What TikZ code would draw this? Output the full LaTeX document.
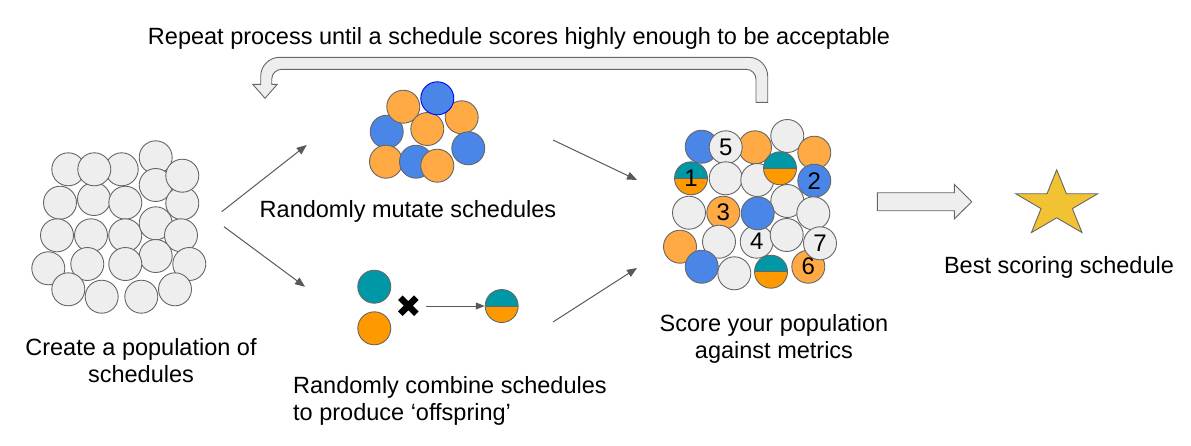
\documentclass[tikz,border=0pt]{standalone}
\usepackage{fontspec}
\setmainfont{Liberation Sans}
\usetikzlibrary{arrows.meta}
\definecolor{cgray}{HTML}{EEEEEE}
\definecolor{cedge}{HTML}{666666}
\definecolor{corange}{HTML}{FFAA44}
\definecolor{corange2}{HTML}{FF9900}
\definecolor{cblue}{HTML}{4A86E8}
\definecolor{cteal}{HTML}{0097A7}
\definecolor{cstar}{HTML}{F1C232}
\definecolor{carrow}{HTML}{595959}
\begin{document}
\begin{tikzpicture}[x=1pt,y=-1pt,
  circ/.style={circle, draw=cedge, line width=0.9pt, minimum size=33pt, inner sep=0pt, font=\fontsize{24}{24}\selectfont},
  gc/.style={circ, fill=cgray},
  oc/.style={circ, fill=corange},
  bc/.style={circ, fill=cblue},
  tc/.style={circ, fill=cteal},
  o2c/.style={circ, fill=corange2},
  sc/.style={circ, path picture={
     \fill[cteal] (path picture bounding box.north west) rectangle (path picture bounding box.east);
     \fill[corange2] (path picture bounding box.west) rectangle (path picture bounding box.south east);
     \draw[cedge, line width=0.9pt] (path picture bounding box.west) -- (path picture bounding box.east);}},
  lbl/.style={font=\fontsize{23.5}{27}\selectfont, inner sep=0pt},
  conn/.style={draw=carrow, line width=1pt, -{Triangle[length=10pt,width=8pt]}},
  block/.style={fill=cgray, draw=cedge, line width=0.9pt, line join=miter}
]
\useasboundingbox (0,0) rectangle (1191,445);

% top label and U-turn arrow
\node[lbl] (repeat) at (519,38) {Repeat process until a schedule scores highly enough to be acceptable};
\draw[block] (767.7,102.3) -- (767.7,76.3) arc[start angle=0,end angle=-90,radius=19]
  -- (279.7,57.3) arc[start angle=-90,end angle=-180,radius=19]
  -- (260.7,84.3) -- (252.7,84.3) -- (265,98.3) -- (277.3,84.3) -- (271.7,84.3)
  -- (271.7,79.3) arc[start angle=180,end angle=270,radius=10]
  -- (746,69.3) arc[start angle=270,end angle=360,radius=10]
  -- (756,102.3) -- cycle;

% left population
\foreach \p [count=\i] in {(68.3,169.3),(121.7,169.3),(60,202.7),(94,199),(94.3,169.3),(155.7,157.3),(155.7,185),(182.3,203.3),(182.3,175.7),(125.3,202.7),(57,235.3),(91,235.3),(125.3,235.3),(155.7,223.3),(181,235.3),(155.7,256),(48.3,268.3),(87.3,264),(125.3,264),(189.3,264),(68.3,289.3),(101.7,296.7),(141.3,296.7),(175,289.3)}
  \node[gc] (l\i) at \p {};
\node[lbl, align=center] (create) at (141,361) {Create a population of\\schedules};

% mutate cluster
\node[bc] (m1) at (386.7,131.7) {};
\node[oc] (m2) at (403.3,106.7) {};
\node[oc] (m3) at (461.7,117.3) {};
\node[oc] (m4) at (427.3,129) {};
\node[bc, draw=blue] (m5) at (437.3,98.3) {};
\node[bc] (m6) at (468.3,148.3) {};
\node[oc] (m7) at (386,161.7) {};
\node[bc] (m8) at (416,161.7) {};
\node[oc] (m9) at (437.3,165.7) {};
\node[lbl] (mutate) at (408,211) {Randomly mutate schedules};

% combine
\node[tc] (c1) at (374.3,286.7) {};
\node[o2c] (c2) at (374.3,328.3) {};
\draw[line width=6.5pt] (400.3,297.7) -- (416.3,313.7) (400.3,313.7) -- (416.3,297.7);
\coordinate (x) at (408.3,305.7);
\node[sc] (c3) at (501.7,306) {};
\coordinate (cs) at (426,306);
\draw[conn, -{Triangle[length=9pt,width=7pt]}] (cs) -- (c3.west);
\node[lbl, align=left, anchor=west] (combine) at (293,401) {Randomly combine schedules\\to produce ‘offspring’};

% arrows
\coordinate (a1s) at (221.7,211.7);
\coordinate (a1e) at (306.7,145);
\coordinate (a2s) at (224,226.7);
\coordinate (a2e) at (305,286.7);
\coordinate (a3s) at (553,140);
\coordinate (a3e) at (637,180);
\coordinate (a4s) at (553,322);
\coordinate (a4e) at (637,268);
\draw[conn] (a1s) -- (a1e);
\draw[conn] (a2s) -- (a2e);
\draw[conn] (a3s) -- (a3e);
\draw[conn] (a4s) -- (a4e);

% scored population
\node[bc] (r1) at (701.7,146.7) {};
\node[oc] (r2) at (755,147.3) {};
\node[gc] (r3) at (725.7,147.3) {5};
\node[gc] (r4) at (787.3,136) {};
\node[oc] (r5) at (814.3,152.7) {};
\node[gc] (r6) at (725.7,178.3) {};
\node[gc] (r7) at (757.3,180) {};
\node[sc] (r8) at (780,168.3) {};
\node[sc] (r9) at (691,178.3) {1};
\node[bc] (r10) at (814.3,180.7) {2};
\node[gc] (r11) at (787.3,201) {};
\node[gc] (r12) at (689,212.7) {};
\node[oc] (r13) at (723.3,212.7) {3};
\node[gc] (r14) at (813.3,213.3) {};
\node[gc] (r15) at (756.7,241.7) {4};
\node[bc] (r16) at (757.7,213.3) {};
\node[gc] (r17) at (786.7,235) {};
\node[oc] (r18) at (808.3,266.7) {6};
\node[gc] (r19) at (820,243.3) {7};
\node[oc] (r20) at (680,246.7) {};
\node[gc] (r21) at (719,241.7) {};
\node[bc] (r22) at (701.7,266.7) {};
\node[gc] (r23) at (734.3,273.3) {};
\node[sc] (r24) at (771,271.7) {};
\node[lbl, align=center] (score) at (774,339) {Score your population\\against metrics};

% block arrow and star
\draw[block] (877.3,192.7) -- (954.3,192.7) -- (954.3,184.3) -- (971.7,201.7) -- (954.3,219) -- (954.3,210.7) -- (877.3,210.7) -- cycle;
\draw[fill=cstar, draw=cedge, line width=0.9pt, shift={(1056.7,204.5)}, xscale=1.24]
  (270:34.7) -- (306:13.3) -- (342:34.7) -- (18:13.3) -- (54:34.7) -- (90:13.3) -- (126:34.7) -- (162:13.3) -- (198:34.7) -- (234:13.3) -- cycle;
\coordinate (star) at (1056.7,204.5);
\node[lbl] (best) at (1059,267) {Best scoring schedule};
\end{tikzpicture}
\end{document}
